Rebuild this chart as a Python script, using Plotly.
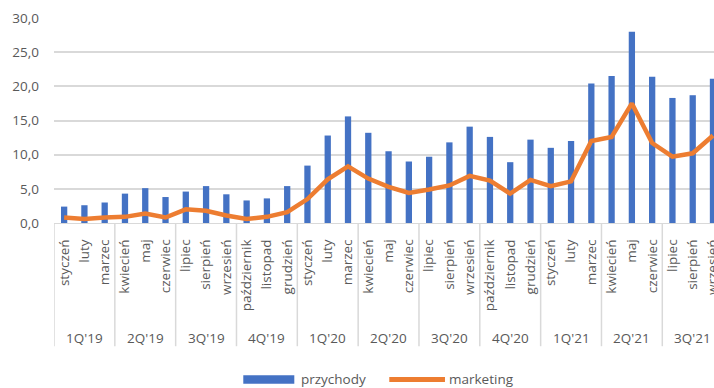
import plotly.graph_objects as go

# Monthly series, Jan 2019 - Sep 2021
quarters = ["1Q'19", "2Q'19", "3Q'19", "4Q'19",
            "1Q'20", "2Q'20", "3Q'20", "4Q'20",
            "1Q'21", "2Q'21", "3Q'21"]
month_names = ["styczeń", "luty", "marzec", "kwiecień", "maj", "czerwiec",
               "lipiec", "sierpień", "wrzesień", "październik", "listopad", "grudzień"]

przychody = [2.4, 2.6, 3.0, 4.3, 5.1, 3.8, 4.6, 5.4, 4.2, 3.3, 3.6, 5.4,
             8.4, 12.8, 15.6, 13.2, 10.5, 9.0, 9.7, 11.8, 14.1, 12.6, 8.9, 12.2,
             11.0, 12.0, 20.4, 21.5, 28.0, 21.4, 18.3, 18.7, 21.1]
marketing = [0.8, 0.6, 0.8, 0.9, 1.4, 0.8, 2.0, 1.8, 1.1, 0.6, 0.9, 1.6,
             3.5, 6.4, 8.3, 6.5, 5.3, 4.4, 4.9, 5.5, 6.9, 6.2, 4.3, 6.3,
             5.4, 6.1, 12.0, 12.6, 17.5, 11.7, 9.7, 10.2, 12.8]

y_ticks = [0, 5, 10, 15, 20, 25, 30]

n = len(przychody)
x_idx = list(range(n))
lvl_month = [month_names[i % 12] for i in range(n)]

BLUE = "#4472C4"
ORANGE = "#ED7D31"
TEXT = "#595959"
GRID = "#D9D9D9"
FONT = "Open Sans"
FS = 13.5

fig = go.Figure()
fig.add_trace(go.Bar(x=x_idx, y=przychody, name="przychody",
                     marker=dict(color=BLUE, line=dict(width=0)),
                     showlegend=False))
fig.add_trace(go.Scatter(x=x_idx, y=marketing, name="marketing",
                         mode="lines", line=dict(color=ORANGE, width=4.5),
                         showlegend=False))

# second-level axis: quarter separators and quarter names
GROUP_BOTTOM = -0.601   # in paper units below the x axis
QUARTER_Y = -0.560
for q, name in enumerate(quarters):
    start = 3 * q - 0.5
    fig.add_shape(type="line", xref="x", yref="paper",
                  x0=start, x1=start, y0=0, y1=GROUP_BOTTOM,
                  line=dict(color=GRID, width=1.5), layer="below")
    fig.add_annotation(text=name, xref="x", yref="paper",
                       x=3 * q + 1, y=QUARTER_Y, xanchor="center", yanchor="middle",
                       showarrow=False, font=dict(family=FONT, size=FS, color=TEXT))

# legend drawn beneath the axis
fig.add_shape(type="rect", xref="paper", yref="paper",
              x0=0.2868, x1=0.3641, y0=-0.7842, y1=-0.7423,
              fillcolor=BLUE, line=dict(width=0))
fig.add_shape(type="line", xref="paper", yref="paper",
              x0=0.5080, x1=0.5924, y0=-0.7633, y1=-0.7633,
              line=dict(color=ORANGE, width=5))
fig.add_annotation(text="przychody", xref="paper", yref="paper",
                   x=0.3710, y=-0.7633, xanchor="left", yanchor="middle",
                   showarrow=False, font=dict(family=FONT, size=FS, color=TEXT))
fig.add_annotation(text="marketing", xref="paper", yref="paper",
                   x=0.5960, y=-0.7633, xanchor="left", yanchor="middle",
                   showarrow=False, font=dict(family=FONT, size=FS, color=TEXT))

fig.update_layout(
    width=714, height=388,
    margin=dict(l=54, r=0, t=18, b=165, pad=0, autoexpand=False),
    paper_bgcolor="white", plot_bgcolor="white",
    separators=", ",
    bargap=0.69,
    font=dict(family=FONT, size=FS, color=TEXT),
    showlegend=False,
)
fig.update_xaxes(
    range=[-0.5, 32.05],
    automargin=False,
    tickmode="array", tickvals=x_idx, ticktext=lvl_month,
    tickangle=-90,
    ticklabeloverflow="allow",
    showline=True, linecolor=GRID, linewidth=1,
    showgrid=False, zeroline=False, ticks="",
    ticklabelstandoff=10,
    tickfont=dict(family=FONT, size=FS, color=TEXT),
)
fig.update_yaxes(
    range=[0, 30], tickvals=y_ticks, tickformat=".1f",
    automargin=False,
    showgrid=True, gridcolor=GRID, gridwidth=1.5,
    zeroline=False, showline=False, ticks="",
    ticklabelstandoff=14,
    tickfont=dict(family=FONT, size=FS, color=TEXT),
)

fig.write_html("out.html")
